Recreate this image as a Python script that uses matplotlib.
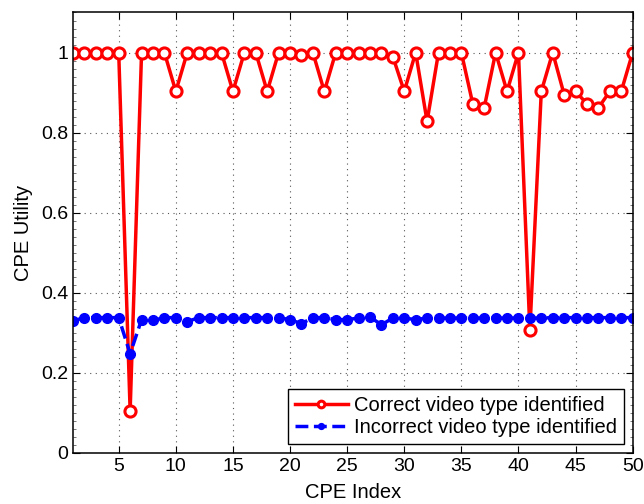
import matplotlib
matplotlib.use("Agg")
import matplotlib.pyplot as plt
from matplotlib.ticker import AutoMinorLocator

plt.rcParams['font.family'] = ['Liberation Sans', 'DejaVu Sans']

cpe_index = list(range(1, 51))
correct = [1, 1, 1, 1, 1, 0.105, 1, 1, 1, 0.903,
           1, 1, 1, 1, 0.903, 1, 1, 0.903, 1, 1,
           0.995, 1, 0.903, 1, 1, 1, 1, 1, 0.99, 0.903,
           1, 0.828, 1, 1, 1, 0.872, 0.862, 1, 0.903, 1,
           0.306, 0.903, 1, 0.895, 0.903, 0.872, 0.862, 0.903, 0.903, 1]
incorrect = [0.33, 0.338, 0.338, 0.338, 0.338, 0.248, 0.333, 0.331, 0.338, 0.338,
             0.328, 0.338, 0.338, 0.338, 0.338, 0.338, 0.338, 0.338, 0.338, 0.333,
             0.323, 0.338, 0.338, 0.333, 0.333, 0.337, 0.34, 0.32, 0.337, 0.337,
             0.333, 0.337, 0.337, 0.337, 0.337, 0.337, 0.337, 0.337, 0.337, 0.337,
             0.337, 0.337, 0.338, 0.338, 0.338, 0.338, 0.338, 0.338, 0.338, 0.338]

fig = plt.figure(figsize=(6.44, 5.04), dpi=100)
ax = fig.add_axes([0.1134, 0.1012, 0.869, 0.874])

ax.plot(cpe_index, correct, '-o', color='red', lw=2.5, ms=8, mew=2.2,
        mfc='white', mec='red', label='Correct video type identified')
ax.plot(cpe_index, incorrect, '--o', color='blue', lw=2.5, ms=7, mew=1,
        mfc='blue', mec='blue', label='Incorrect video type identified')

ax.set_xlim(1, 50)
ax.set_ylim(0, 1.1)
ax.set_xticks(range(5, 51, 5))
ax.set_yticks([0, 0.2, 0.4, 0.6, 0.8, 1.0])
ax.set_yticklabels(['0', '0.2', '0.4', '0.6', '0.8', '1'])
ax.yaxis.set_minor_locator(AutoMinorLocator(10))
ax.grid(True, which='major', linestyle=(0, (1, 4)), color='#555555', lw=0.8)
ax.tick_params(which='major', direction='in', top=True, right=True, labelsize=14, length=5)
ax.tick_params(which='minor', direction='in', right=True, length=2.5, width=0.5, color='#444444')
for s in ax.spines.values():
    s.set_linewidth(1.1)
ax.set_xlabel('CPE Index', fontsize=14.5, labelpad=6)
ax.set_ylabel('CPE Utility', fontsize=14.5, labelpad=6)

leg = ax.legend(loc='lower right', fontsize=14.5, fancybox=False, framealpha=1,
                edgecolor='black', borderaxespad=0.45, handlelength=2.6,
                handletextpad=0.3, markerscale=0.6, borderpad=0.35,
                labelspacing=0.15)
leg.get_frame().set_linewidth(1.0)

fig.savefig('out.png', dpi=100)
